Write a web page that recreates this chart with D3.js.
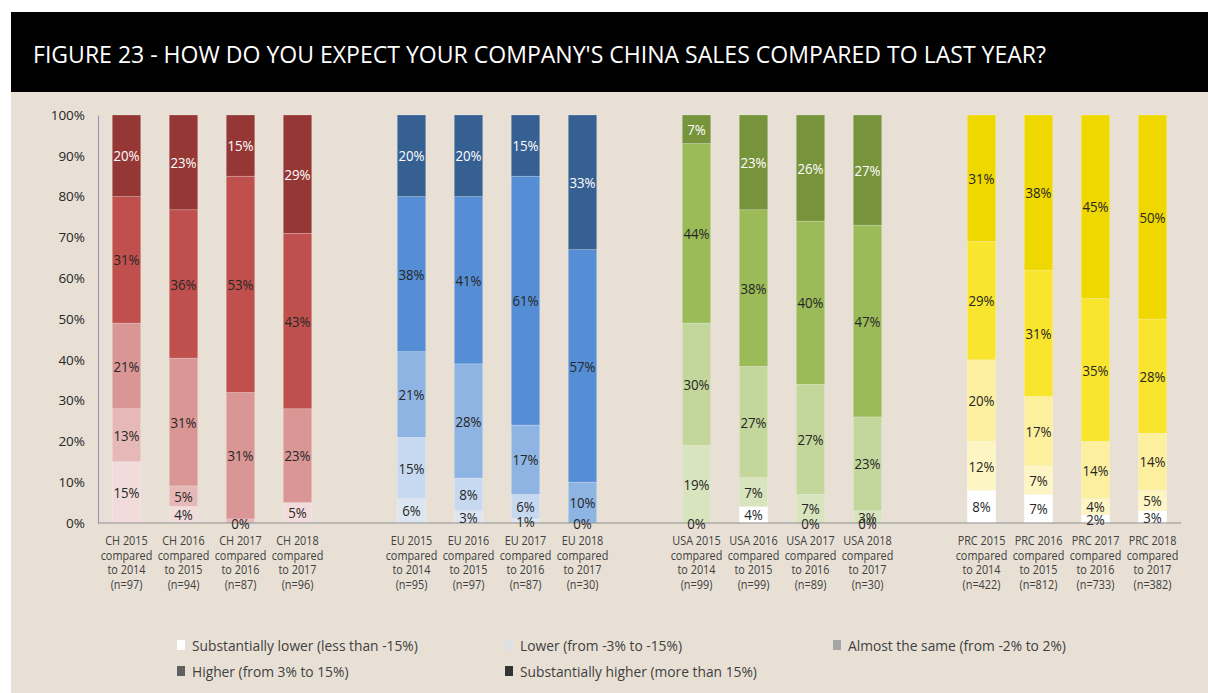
<!DOCTYPE html>
<html>
<head>
<meta charset="utf-8">
<script src="https://cdn.jsdelivr.net/npm/d3@7"></script>
<style>
  html, body { margin: 0; padding: 0; background: #ffffff; }
  svg { display: block; }
  text { font-family: "Open Sans", "Noto Sans", sans-serif; }
</style>
</head>
<body>
<svg id="chart" width="1208" height="693"></svg>
<script>
// ---------------- DATA ----------------
const title = "FIGURE 23 - HOW DO YOU EXPECT YOUR COMPANY'S CHINA SALES COMPARED TO LAST YEAR?";
const regions = ["CH", "EU", "USA", "PRC"];
const years = ["2015", "2016", "2017", "2018"];
const categories = [
  "CH 2015", "CH 2016", "CH 2017", "CH 2018",
  "EU 2015", "EU 2016", "EU 2017", "EU 2018",
  "USA 2015", "USA 2016", "USA 2017", "USA 2018",
  "PRC 2015", "PRC 2016", "PRC 2017", "PRC 2018"
];
const sampleSizes = [97, 94, 87, 96, 95, 97, 87, 30, 99, 99, 89, 30, 422, 812, 733, 382];
const seriesNames = [
  "Substantially lower (less than -15%)",
  "Lower (from -3% to -15%)",
  "Almost the same (from -2% to 2%)",
  "Higher (from 3% to 15%)",
  "Substantially higher (more than 15%)"
];
const substantiallyLower  = [15, 4, 0, 5,   6, 3, 1, 0,   0, 4, 0, 0,   8, 7, 2, 3];
const lower               = [13, 5, 1, null, 15, 8, 6, null, 19, 7, 7, 3, 12, 7, 4, 5];
const almostSame          = [21, 31, 31, 23, 21, 28, 17, 10, 30, 27, 27, 23, 20, 17, 14, 14];
const higher              = [31, 36, 53, 43, 38, 41, 61, 57, 44, 38, 40, 47, 29, 31, 35, 28];
const substantiallyHigher = [20, 23, 15, 29, 20, 20, 15, 33, 7, 23, 26, 27, 31, 38, 45, 50];
const hiddenLabels = [["CH 2017", 1]]; // tiny segment whose label is not shown
const yTicks = [0, 0.1, 0.2, 0.3, 0.4, 0.5, 0.6, 0.7, 0.8, 0.9, 1.0];

// ---------------- STYLES ----------------
const regionColors = {
  CH:  ["#f2dcdb", "#e6b9b8", "#d99694", "#c0504d", "#953735"],
  EU:  ["#dce6f2", "#c6d9f1", "#8eb4e3", "#558ed5", "#366092"],
  USA: ["#ffffff", "#d7e4bd", "#c3d69b", "#9bbb59", "#77933c"],
  PRC: ["#ffffff", "#fdf5c4", "#fcef9e", "#f9e42e", "#efd700"]
};
const regionLabelColors = {
  CH:  ["#262626", "#262626", "#262626", "#262626", "#ffffff"],
  EU:  ["#262626", "#262626", "#262626", "#262626", "#ffffff"],
  USA: ["#262626", "#262626", "#262626", "#262626", "#ffffff"],
  PRC: ["#262626", "#262626", "#262626", "#262626", "#262626"]
};
const legendColors = ["#ffffff", "#dde1e6", "#a6a6a6", "#5f5f5f", "#333333"];

// ---------------- BUILD ----------------
const svg = d3.select("#chart");
const W = 1208, H = 693;

svg.append("rect").attr("x", 0).attr("y", 0).attr("width", W).attr("height", H).attr("fill", "#ffffff");
svg.append("rect").attr("x", 11).attr("y", 12).attr("width", W - 11).attr("height", H - 12).attr("fill", "#e8e0d5");
svg.append("rect").attr("x", 11).attr("y", 12).attr("width", W - 11).attr("height", 80).attr("fill", "#000000");
svg.append("text")
  .attr("x", 33).attr("y", 63)
  .attr("fill", "#ffffff")
  .attr("font-size", 24)
  .attr("textLength", 1013)
  .attr("lengthAdjust", "spacingAndGlyphs")
  .text(title);

// slots incl. gaps between regions
const slots = [];
regions.forEach((r, i) => {
  years.forEach(y => slots.push(r + " " + y));
  if (i < regions.length - 1) slots.push("gap" + i);
});

const x = d3.scaleBand().domain(slots).range([98, 1181]).paddingInner(0.5).paddingOuter(0.25);
const y = d3.scaleLinear().domain([0, 1]).range([523, 115]);

const rows = categories.map((c, i) => ({
  cat: c,
  region: c.split(" ")[0],
  n: sampleSizes[i],
  vals: [substantiallyLower[i], lower[i], almostSame[i], higher[i], substantiallyHigher[i]]
}));
const keys = [0, 1, 2, 3, 4];
const stack = d3.stack()
  .keys(keys)
  .value((d, k) => d.vals[k] == null ? 0 : d.vals[k])
  .offset(d3.stackOffsetExpand);
const stacked = stack(rows);

const gBars = svg.append("g");
stacked.forEach((layer, k) => {
  gBars.selectAll(null).data(layer).join("rect")
    .attr("x", d => x(d.data.cat))
    .attr("width", x.bandwidth())
    .attr("y", d => y(d[1]))
    .attr("height", d => y(d[0]) - y(d[1]))
    .attr("fill", d => regionColors[d.data.region][k])
    .attr("stroke", "rgba(255,255,255,0.35)")
    .attr("stroke-width", 0.6);
});

// axes
const yAxis = d3.axisLeft(y).tickValues(yTicks).tickFormat(d3.format(".0%")).tickSize(0).tickPadding(13);
const gy = svg.append("g").attr("transform", "translate(98,0)").call(yAxis);
gy.select(".domain").attr("stroke", "#9b8cc4").attr("stroke-width", 1);
gy.selectAll("text").attr("font-size", 13.5).attr("fill", "#262626")
  .attr("font-family", "'Open Sans', sans-serif");

const gx = svg.append("g").attr("transform", "translate(0,523)");
gx.append("line").attr("x1", 98).attr("x2", 1181).attr("y1", 0).attr("y2", 0)
  .attr("stroke", "#8c8c8c").attr("stroke-width", 1);

// data labels (slightly condensed like the reference)
const gLab = svg.append("g");
stacked.forEach((layer, k) => {
  gLab.selectAll(null).data(layer.filter(d => {
      const v = d.data.vals[k];
      if (v == null) return false;
      return !hiddenLabels.some(h => h[0] === d.data.cat && h[1] === v && k === 1);
    }))
    .join("text")
    .attr("transform", d => `translate(${x(d.data.cat) + x.bandwidth() / 2},${(y(d[0]) + y(d[1])) / 2}) scale(0.95,1)`)
    .attr("text-anchor", "middle")
    .attr("dominant-baseline", "central")
    .attr("font-size", 14)
    .attr("fill", d => regionLabelColors[d.data.region][k])
    .text(d => d.data.vals[k] + "%");
});

// category labels (condensed)
const gCat = svg.append("g");
rows.forEach(r => {
  const parts = r.cat.split(" ");
  const lines = [r.cat, "compared", "to " + (parseInt(parts[1]) - 1), "(n=" + r.n + ")"];
  const t = gCat.append("text")
    .attr("transform", `translate(${x(r.cat) + x.bandwidth() / 2},545) scale(0.87,1)`)
    .attr("text-anchor", "middle")
    .attr("font-size", 12.5)
    .attr("fill", "#404040");
  lines.forEach((ln, i) => {
    t.append("tspan").attr("x", 0).attr("y", i * 14.7).text(ln);
  });
});

// legend
const legendPos = [[181, 645], [509, 645], [837, 645], [181, 671], [509, 671]];
const gLeg = svg.append("g");
seriesNames.forEach((s, i) => {
  const [lx, ly] = legendPos[i];
  gLeg.append("rect").attr("x", lx - 4).attr("y", ly - 5).attr("width", 8).attr("height", 10)
    .attr("fill", legendColors[i]);
  gLeg.append("text")
    .attr("transform", `translate(${lx + 11},${ly}) scale(0.92,1)`)
    .attr("dominant-baseline", "central")
    .attr("font-size", 15).attr("fill", "#404040").text(s);
});
</script>
</body>
</html>
